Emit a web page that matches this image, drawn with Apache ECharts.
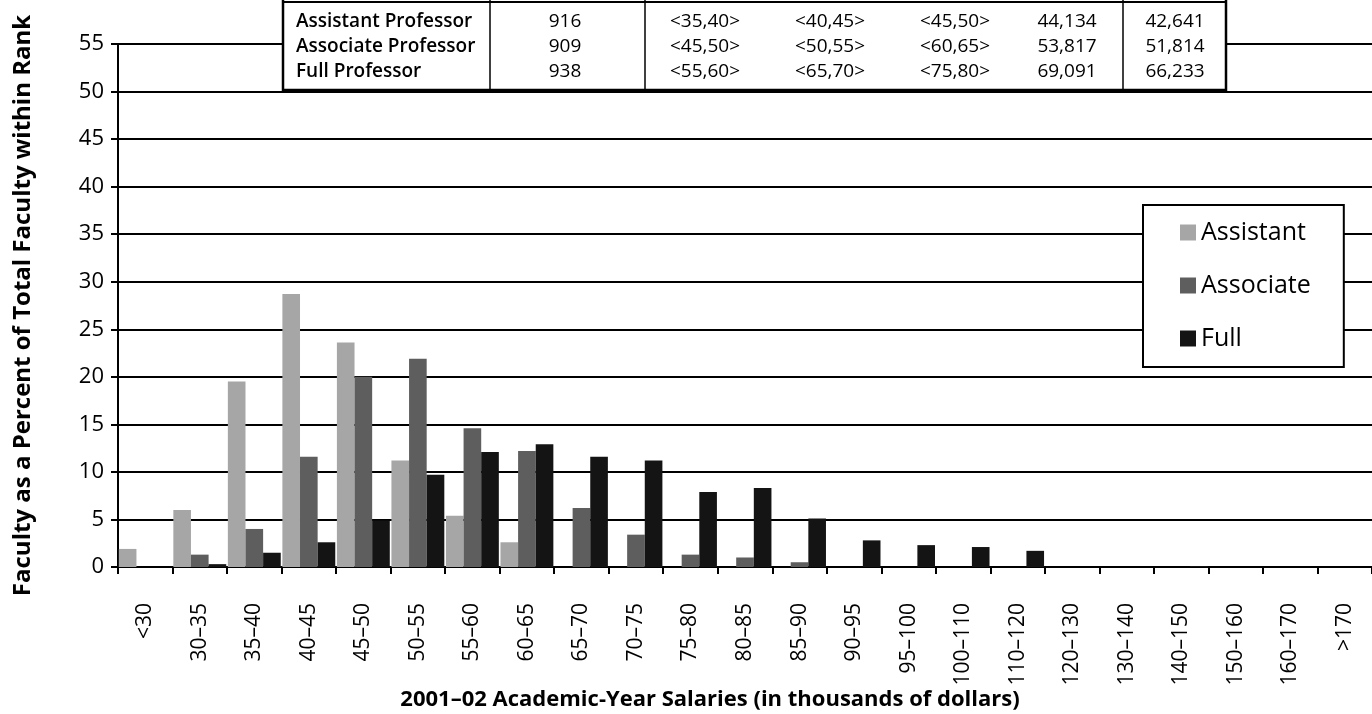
<!DOCTYPE html>
<html>
<head>
<meta charset="utf-8">
<script src="https://cdn.jsdelivr.net/npm/echarts@6/dist/echarts.min.js"></script>
<style>
  html, body { margin: 0; padding: 0; background: #fff; }
  #chart { width: 1372px; height: 714px; }
</style>
</head>
<body>
<div id="chart"></div>
<script>
// Salary bands (thousands of dollars)
const categories = ['<30', '30–35', '35–40', '40–45', '45–50', '50–55', '55–60', '60–65',
  '65–70', '70–75', '75–80', '80–85', '85–90', '90–95', '95–100', '100–110', '110–120',
  '120–130', '130–140', '140–150', '150–160', '160–170', '>170'];

// Percent of faculty within each rank
const assistant = [1.9, 6.0, 19.5, 28.7, 23.6, 11.2, 5.4, 2.6, 0, 0, 0, 0, 0,
  0, 0, 0, 0, 0, 0, 0, 0, 0, 0];
const associate = [0, 1.3, 4.0, 11.6, 20.0, 21.9, 14.6, 12.2, 6.2, 3.4, 1.3, 1.0, 0.5,
  0, 0, 0, 0, 0, 0, 0, 0, 0, 0];
const full = [0, 0.3, 1.5, 2.6, 4.9, 9.7, 12.1, 12.9, 11.6, 11.2, 7.9, 8.3, 5.1,
  2.8, 2.3, 2.1, 1.7, 0, 0, 0.1, 0, 0, 0];

const seriesNames = ['Assistant', 'Associate', 'Full'];
const yTicks = [0, 5, 10, 15, 20, 25, 30, 35, 40, 45, 50, 55];

// Summary table rows
const tableRanks = ['Assistant Professor', 'Associate Professor', 'Full Professor'];
const tableCounts = ['916', '909', '938'];
const tableBand1 = ['<35,40>', '<45,50>', '<55,60>'];
const tableBand2 = ['<40,45>', '<50,55>', '<65,70>'];
const tableBand3 = ['<45,50>', '<60,65>', '<75,80>'];
const tableMeans = ['44,134', '53,817', '69,091'];
const tableMedians = ['42,641', '51,814', '66,233'];

const FONT = '"Open Sans", "DejaVu Sans", sans-serif';
const colors = ['#a6a6a6', '#5e5e5e', '#141414'];

// Table drawing
const tableLeft = 283, tableRight = 1226, tableBottom = 90;
const rowY = [22, 47, 72];
const colCenters = [565, 705, 830, 955, 1067, 1175];
const Z = 100;
const tableEls = [
  { type: 'rect', z: Z, shape: { x: tableLeft, y: -30, width: tableRight - tableLeft, height: tableBottom + 30 },
    style: { fill: '#fff', stroke: '#000', lineWidth: 2.5 } },
  { type: 'line', z: Z, shape: { x1: tableLeft, y1: 2, x2: tableRight, y2: 2 }, style: { stroke: '#000', lineWidth: 2 } }
];
[490, 645, 1123].forEach(x => tableEls.push({
  type: 'line', z: Z, shape: { x1: x, y1: -30, x2: x, y2: tableBottom }, style: { stroke: '#000', lineWidth: 1.5 }
}));
const cols = [tableCounts, tableBand1, tableBand2, tableBand3, tableMeans, tableMedians];
tableRanks.forEach((r, i) => {
  tableEls.push({ type: 'text', z: Z + 1, x: 296, y: rowY[i],
    style: { text: r, font: '600 19px ' + FONT, fill: '#000', align: 'left', verticalAlign: 'middle' } });
  cols.forEach((c, j) => tableEls.push({ type: 'text', z: Z + 1, x: colCenters[j], y: rowY[i],
    style: { text: c[i], font: '19px ' + FONT, fill: '#000', align: 'center', verticalAlign: 'middle' } }));
});

const chart = echarts.init(document.getElementById('chart'), null, { renderer: 'canvas' });
chart.setOption({
  animation: false,
  backgroundColor: '#fff',
  color: colors,
  title: {
    text: '2001–02 Academic-Year Salaries (in thousands of dollars)',
    left: 705, top: 684, textAlign: 'center',
    textStyle: { fontFamily: FONT, fontSize: 22, fontWeight: 'bold', color: '#000' }
  },
  grid: { left: 118, right: -11, top: 44, bottom: 147, containLabel: false },
  legend: {
    data: seriesNames,
    orient: 'vertical',
    left: 1143, top: 205,
    padding: [15, 33, 16, 37],
    itemGap: 28,
    itemWidth: 16, itemHeight: 16,
    icon: 'rect',
    backgroundColor: '#fff',
    borderColor: '#000', borderWidth: 2,
    textStyle: { fontFamily: FONT, fontSize: 25, color: '#000', padding: [0, 0, 0, 0] }
  },
  xAxis: {
    type: 'category',
    data: categories,
    axisLine: { lineStyle: { color: '#000', width: 2 } },
    axisTick: { show: true, length: 7, lineStyle: { color: '#000', width: 2 } },
    axisLabel: { rotate: 90, margin: 36, fontFamily: FONT, fontSize: 21, color: '#000', interval: 0 },
    splitLine: { show: false }
  },
  yAxis: {
    type: 'value',
    min: yTicks[0], max: yTicks[yTicks.length - 1], interval: 5,
    name: 'Faculty as a Percent of Total Faculty within Rank',
    nameLocation: 'middle', nameGap: 83, nameRotate: 90,
    nameTextStyle: { fontFamily: FONT, fontSize: 24, fontWeight: 'bold', color: '#000' },
    axisLine: { show: true, lineStyle: { color: '#000', width: 2 } },
    axisTick: { show: true, length: 7, lineStyle: { color: '#000', width: 2 } },
    axisLabel: { fontFamily: FONT, fontSize: 22, color: '#000', margin: 14 },
    splitLine: { lineStyle: { color: '#000', width: 2 } }
  },
  series: [
    { name: seriesNames[0], type: 'bar', data: assistant, barGap: '0%', barCategoryGap: '3%' },
    { name: seriesNames[1], type: 'bar', data: associate, barGap: '0%', barCategoryGap: '3%' },
    { name: seriesNames[2], type: 'bar', data: full, barGap: '0%', barCategoryGap: '3%' }
  ],
  graphic: { elements: tableEls }
});
</script>
</body>
</html>
